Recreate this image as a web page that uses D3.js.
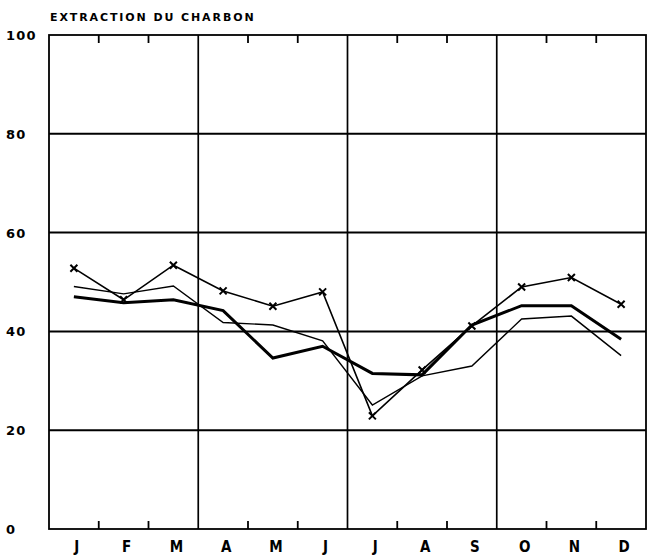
<html>
<head>
    <title>Extraction du charbon</title>
    <script src="https://d3js.org/d3.v7.min.js"></script>
    <style>
        body { margin:0; background:#fff; }
        text { font-family: "DejaVu Sans", sans-serif; font-weight: bold; fill:#000; }
    </style>
</head>
<body>
    <svg id="chart" width="651" height="556"></svg>
    <script>
        var months = ["J","F","M","A","M","J","J","A","S","O","N","D"];
        var yTicks = [0, 20, 40, 60, 80, 100];

        // serie avec croix
        var serieCroix = [52.8, 46.4, 53.4, 48.2, 45.1, 48.0, 22.9, 32.2, 41.1, 49.0, 50.9, 45.5];
        // serie epaisse
        var serieEpaisse = [47.0, 45.8, 46.4, 44.2, 34.6, 37.0, 31.5, 31.2, 41.3, 45.2, 45.2, 38.4];
        // serie fine
        var serieFine = [49.1, 47.6, 49.2, 41.8, 41.3, 38.1, 25.1, 31.0, 33.0, 42.5, 43.1, 35.1];

        var svg = d3.select("#chart");
        var mLeft = 49, mRight = 646, mTop = 35, mBottom = 529;

        var x = d3.scaleBand().domain(d3.range(12)).range([mLeft, mRight]).paddingInner(0).paddingOuter(0);
        var y = d3.scaleLinear().domain([0, 100]).range([mBottom, mTop]);
        var cx = function(i){ return x(i) + x.bandwidth()/2; };

        svg.append("text")
            .attr("x", 50).attr("y", 21)
            .style("font-size", "11px")
            .style("letter-spacing", "1.9px")
            .text("EXTRACTION DU CHARBON");

        // grille horizontale
        svg.selectAll("line.hgrid").data([20, 40, 60, 80]).enter().append("line")
            .attr("x1", mLeft).attr("x2", mRight)
            .attr("y1", d => y(d)).attr("y2", d => y(d))
            .attr("stroke", "#000").attr("stroke-width", 2);

        // grille verticale (trimestres)
        svg.selectAll("line.vgrid").data([3, 6, 9]).enter().append("line")
            .attr("x1", d => x(d)).attr("x2", d => x(d))
            .attr("y1", mTop).attr("y2", mBottom)
            .attr("stroke", "#000").attr("stroke-width", 1.7);

        // petites graduations mensuelles
        var minor = [1, 2, 4, 5, 7, 8, 10, 11];
        svg.selectAll("line.ttop").data(minor).enter().append("line")
            .attr("x1", d => x(d)).attr("x2", d => x(d))
            .attr("y1", mTop).attr("y2", mTop + 8)
            .attr("stroke", "#000").attr("stroke-width", 1.8);
        svg.selectAll("line.tbot").data(minor).enter().append("line")
            .attr("x1", d => x(d)).attr("x2", d => x(d))
            .attr("y1", mBottom).attr("y2", mBottom - 8)
            .attr("stroke", "#000").attr("stroke-width", 1.8);

        // cadre
        svg.append("rect")
            .attr("x", mLeft).attr("y", mTop)
            .attr("width", mRight - mLeft).attr("height", mBottom - mTop)
            .attr("fill", "none").attr("stroke", "#000").attr("stroke-width", 1.8);

        // etiquettes
        svg.selectAll("text.ylab").data(yTicks).enter().append("text")
            .attr("x", 6).attr("y", d => y(d) + 5)
            .style("font-size", "13px")
            .style("letter-spacing", "1.2px")
            .text(d => d);

        svg.selectAll("text.xlab").data(months).enter().append("text")
            .attr("x", (d, i) => cx(i) + 3).attr("y", 552)
            .attr("text-anchor", "middle")
            .style("font-family", "'DejaVu Sans Condensed', 'DejaVu Sans', sans-serif")
            .style("font-size", "15px")
            .text(d => d);

        var line = d3.line().x((d, i) => cx(i)).y(d => y(d));

        svg.append("path").datum(serieFine)
            .attr("d", line).attr("fill", "none")
            .attr("stroke", "#000").attr("stroke-width", 1.4);

        svg.append("path").datum(serieEpaisse)
            .attr("d", line).attr("fill", "none")
            .attr("stroke", "#000").attr("stroke-width", 3);

        svg.append("path").datum(serieCroix)
            .attr("d", line).attr("fill", "none")
            .attr("stroke", "#000").attr("stroke-width", 1.6);

        // croix
        var s = 3.5;
        serieCroix.forEach(function(d, i){
            svg.append("path")
                .attr("d", "M" + (cx(i)-s) + "," + (y(d)-s) + "L" + (cx(i)+s) + "," + (y(d)+s) +
                           "M" + (cx(i)-s) + "," + (y(d)+s) + "L" + (cx(i)+s) + "," + (y(d)-s))
                .attr("stroke", "#000").attr("stroke-width", 2);
        });
    </script>
</body>
</html>
